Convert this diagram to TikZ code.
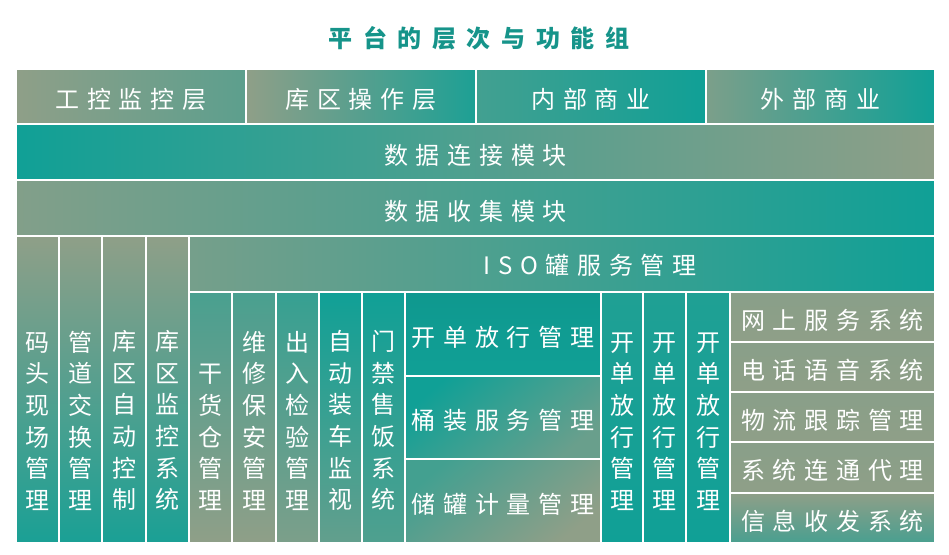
\documentclass[tikz,border=0pt]{standalone}
\usepackage{fontspec}
\usepackage{tikz}
\usetikzlibrary{positioning}
\newfontfamily\cjk[LetterSpace=32]{Noto Sans CJK SC}
\newfontfamily\cjkv{Noto Sans CJK SC}
\newfontfamily\cjkt[LetterSpace=44]{Noto Sans CJK SC}
\definecolor{tealA}{RGB}{16,160,150}
\definecolor{sage}{RGB}{143,159,136}
\definecolor{titleteal}{RGB}{22,148,138}

\begin{document}
\begin{tikzpicture}[x=1pt, y=-1pt]
		\tikzstyle{cell} = [draw=white, line width=2pt, inner sep=0pt, text=white, text height=24pt, text depth=0pt, font=\cjk\fontsize{24}{28}\selectfont]
		\tikzstyle{vtext} = [inner sep=0pt, text=white, align=center, font=\cjkv\fontsize{24}{31.7}\selectfont]
		\tikzstyle{colup} = [top color=sage, bottom color=tealA!92!sage]
		\tikzstyle{dcolA} = [top color=tealA!55!sage, bottom color=sage]
		\tikzstyle{dcolB} = [top color=tealA!70!sage, bottom color=sage!85!tealA]
		\tikzstyle{dcolC} = [top color=tealA, bottom color=sage!65!tealA]
		\tikzstyle{dcolD} = [top color=tealA, bottom color=tealA!50!sage]
		\tikzstyle{kcol} = [top color=tealA!88!sage, bottom color=tealA]
		\tikzstyle{rflat} = [top color=sage!95!tealA, bottom color=sage]
		\tikzstyle{rlast} = [top color=sage, bottom color=tealA!55!sage]
		\useasboundingbox (0,0) rectangle (949,554);
		\node[text=titleteal, font=\cjkt\bfseries\fontsize{24}{28}\selectfont] (title) at (479,38) {平台的层次与功能组};
		% 四个层
		\node[cell, minimum width=230pt, minimum height=55pt, left color=sage, right color=tealA!40!sage] (gk) at (131,96.5) {工控监控层};
		\node[cell, minimum width=230pt, minimum height=55pt, left color=sage, right color=tealA!90!sage] (kq) at (361,96.5) {库区操作层};
		\node[cell, minimum width=230pt, minimum height=55pt, left color=tealA!60!sage, right color=tealA] (nb) at (591,96.5) {内部商业};
		\node[cell, minimum width=229pt, minimum height=55pt, left color=sage!85!tealA, right color=tealA] (wb) at (820.5,96.5) {外部商业};
		% 模块
		\node[cell, minimum width=919pt, minimum height=56pt, left color=tealA, right color=sage] (sjlj) at (475.5,152) {数据连接模块};
		\node[cell, minimum width=919pt, minimum height=56pt, left color=sage!90!tealA, right color=tealA] (sjsj) at (475.5,208) {数据收集模块};
		\foreach \nm/\cx/\cw/\txt in {c1/37.5/43/{码\\头\\现\\场\\管\\理}, c2/80.5/43/{管\\道\\交\\换\\管\\理}, c3/124/44/{库\\区\\自\\动\\控\\制}, c4/167.5/43/{库\\区\\监\\控\\系\\统}}{
			\node[cell, colup, minimum width=\cw pt, minimum height=307pt] (\nm) at (\cx,389.5) {};
			\node[vtext, above=33pt of \nm.south] (\nm-t) {\txt};
		}
		\node[cell, minimum width=746pt, minimum height=56pt, left color=sage!80!tealA, right color=tealA] (iso) at (562,264) {};
		\node[vtext, font=\cjk\fontsize{24}{28}\selectfont] (iso-t) at (590,265) {ISO罐服务管理};
		\foreach \nm/\cx/\cw/\sh/\txt in {d1/210.5/43/dcolA/{干\\货\\仓\\管\\理}, d2/254/44/dcolA/{维\\修\\保\\安\\管\\理}, d3/297.5/43/dcolB/{出\\入\\检\\验\\管\\理}, d4/340.5/43/dcolC/{自\\动\\装\\车\\监\\视}, d5/383.5/43/dcolD/{门\\禁\\售\\饭\\系\\统}}{
			\node[cell, \sh, minimum width=\cw pt, minimum height=251pt] (\nm) at (\cx,417.5) {};
			\node[vtext, above=33pt of \nm.south] (\nm-t) {\txt};
		}
		\node[cell, minimum width=196pt, minimum height=84pt, top color=tealA!95!black, bottom color=tealA] (m1) at (503,334) {开单放行管理};
		\node[cell, minimum width=196pt, minimum height=83pt, top color=tealA, bottom color=sage!70!tealA, shading angle=40] (m2) at (503,417.5) {桶装服务管理};
		\node[cell, minimum width=196pt, minimum height=84pt, top color=tealA!60!sage, bottom color=sage, shading angle=40] (m3) at (503,501) {储罐计量管理};
		\foreach \nm/\cx/\cw in {k1/622/42, k2/664.5/43, k3/708/44}{
			\node[cell, kcol, minimum width=\cw pt, minimum height=251pt] (\nm) at (\cx,417.5) {};
			\node[vtext, above=33pt of \nm.south] (\nm-t) {开\\单\\放\\行\\管\\理};
		}
		\foreach \nm/\cy/\ch/\sh/\txt in {r1/317/50/rflat/网上服务系统, r2/367/50/rflat/电话语音系统, r3/417/50/rflat/物流跟踪管理, r4/467.5/51/rflat/系统连通代理, r5/518/50/rlast/信息收发系统}{
			\node[cell, \sh, minimum width=205pt, minimum height=\ch pt] (\nm) at (832.5,\cy) {\txt};
		}
	\end{tikzpicture}
\end{document}
